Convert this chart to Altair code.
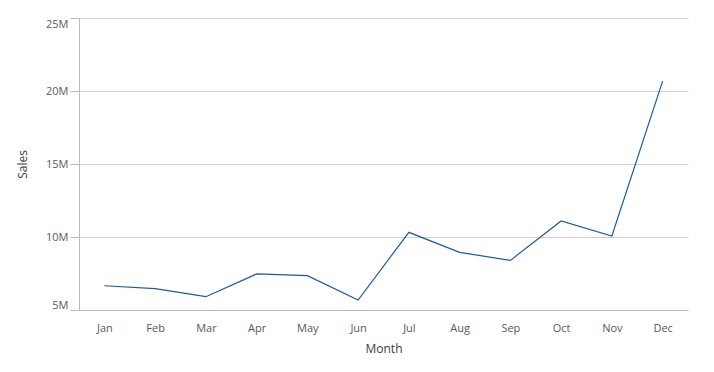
import altair as alt
import pandas as pd

months = ["Jan", "Feb", "Mar", "Apr", "May", "Jun", "Jul", "Aug", "Sep", "Oct", "Nov", "Dec"]
sales = [6.66e6, 6.46e6, 5.91e6, 7.47e6, 7.35e6, 5.68e6, 10.32e6, 8.95e6, 8.40e6, 11.10e6, 10.07e6, 20.68e6]
y_ticks = [5e6, 10e6, 15e6, 20e6, 25e6]

df = pd.DataFrame({"Month": months, "Sales": sales})

chart = alt.Chart(df).mark_line(color="#1d5a9c", strokeWidth=1.2).encode(
    x=alt.X("Month:N", sort=months, scale=alt.Scale(paddingInner=0, paddingOuter=0),
            axis=alt.Axis(title="Month", labelAngle=0, ticks=False, domain=True,
                          domainColor="#bbbbbb", labelPadding=12, titlePadding=10,
                          labelFontSize=11, labelColor="#595959", titleFontSize=12,
                          titleColor="#404040", titleFontWeight="normal", labelFont="Open Sans",
                          titleFont="Open Sans")),
    y=alt.Y("Sales:Q", scale=alt.Scale(domain=[5e6, 25e6], nice=False, zero=False),
            axis=alt.Axis(title="Sales", values=y_ticks, labelExpr="datum.value / 1000000 + 'M'",
                          labelFlush=True, grid=True, gridColor="#d0d0d0", domainColor="#bbbbbb",
                          tickColor="#bbbbbb", tickSize=9, labelPadding=2, titlePadding=16,
                          labelFontSize=11, labelColor="#595959", titleFontSize=12,
                          titleColor="#404040", titleFontWeight="normal", labelFont="Open Sans",
                          titleFont="Open Sans")),
).properties(
    width=609, height=292,
    autosize=alt.AutoSizeParams(type="none"),
    padding={"left": 71, "top": 10, "right": 18, "bottom": 62},
).configure_view(stroke=None).configure_axisY(domain=True)

chart.save("out.html", embed_options={"renderer": "svg", "actions": False})
